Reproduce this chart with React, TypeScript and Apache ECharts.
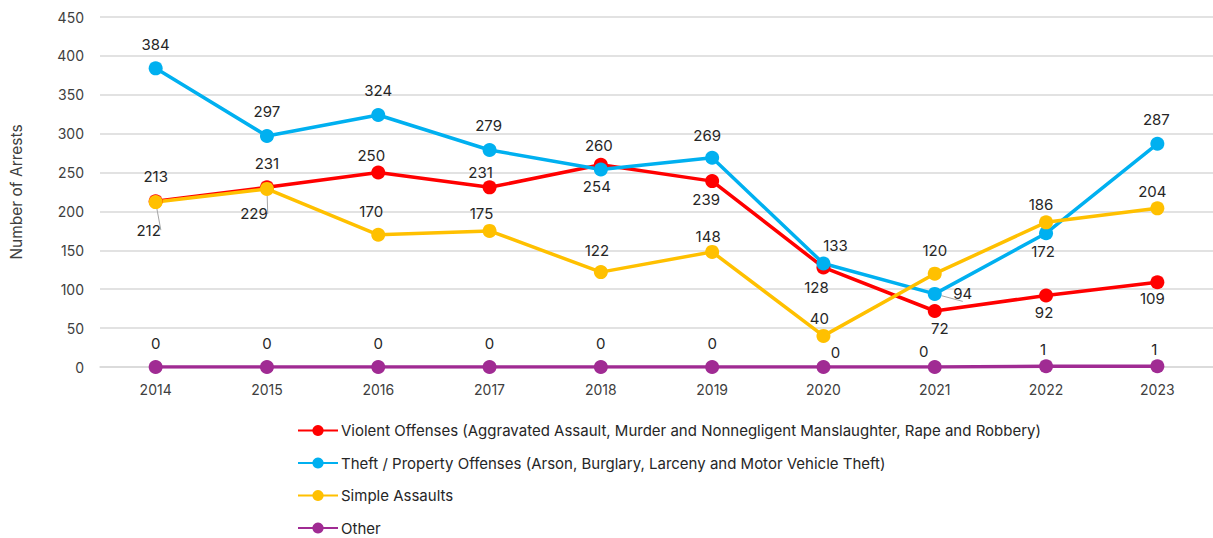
import React, { useEffect, useRef } from "react";
import * as echarts from "echarts";

const years = ["2014", "2015", "2016", "2017", "2018", "2019", "2020", "2021", "2022", "2023"];
const violent = [213, 231, 250, 231, 260, 239, 128, 72, 92, 109];
const theft = [384, 297, 324, 279, 254, 269, 133, 94, 172, 287];
const simple = [212, 229, 170, 175, 122, 148, 40, 120, 186, 204];
const other = [0, 0, 0, 0, 0, 0, 0, 0, 1, 1];

const names = [
  "Violent Offenses (Aggravated Assault, Murder and Nonnegligent Manslaughter, Rape and Robbery)",
  "Theft / Property Offenses (Arson, Burglary, Larceny and Motor Vehicle Theft)",
  "Simple Assaults",
  "Other",
];
const colors = ["#ff0000", "#00b0f0", "#ffc000", "#a02b93"];

// label offsets from the point centre, [dx, dy] in px
const violentLabelOff: [number, number][] = [
  [0, -25], [0, -24], [-7, -17], [-9, -15], [-2, -19], [-6, 18], [-7, 20], [5, 17], [-2, 17], [-5, 16],
];
const theftLabelOff: [number, number][] = [
  [0, -24], [0, -25], [0, -25], [-1, -25], [-4, 17], [-5, -22], [12, -18], [28, 0], [-3, 18], [-1, -24],
];
const simpleLabelOff: [number, number][] = [
  [-7, 28], [-13, 25], [-7, -23], [-8, -17], [-4, -22], [-4, -15], [-4, -17], [0, -23], [-5, -18], [-5, -17],
];
const otherLabelOff: [number, number][] = [
  [0, -24], [0, -24], [0, -24], [0, -24], [0, -24], [0, -24], [12, -15], [-11, -16], [-3, -17], [-3, -17],
];
// points whose label has a leader line
const leaders = ["2-0", "2-1", "1-7"];

export default function App() {
  const ref = useRef<HTMLDivElement>(null);
  useEffect(() => {
    if (!ref.current) return;
    const chart = echarts.init(ref.current, undefined, { renderer: "svg" });
    const font = "Inter, 'Noto Sans', sans-serif";
    const allData = [violent, theft, simple, other];
    const allOff = [violentLabelOff, theftLabelOff, simpleLabelOff, otherLabelOff];
    chart.setOption({
      animation: false,
      textStyle: { fontFamily: font },
      grid: { left: 98, right: -10, top: 17, bottom: 171 },
      xAxis: {
        type: "category",
        data: years,
        boundaryGap: true,
        axisLine: { show: true, lineStyle: { color: "#d9d9d9", width: 1.5 } },
        axisTick: { show: false },
        axisLabel: { color: "#404040", fontSize: 14, fontFamily: font, margin: 15 },
      },
      yAxis: {
        type: "value",
        min: 0,
        max: 450,
        interval: 50,
        name: "Number of Arrests",
        nameLocation: "middle",
        nameGap: 76,
        nameTextStyle: { color: "#404040", fontSize: 15.5, fontFamily: font },
        axisLine: { show: false },
        axisTick: { show: false },
        axisLabel: { color: "#404040", fontSize: 14, fontFamily: font, margin: 16 },
        splitLine: { lineStyle: { color: "#d9d9d9", width: 1.5 } },
      },
      legend: {
        orient: "vertical",
        left: 297,
        top: 423,
        height: 115,
        padding: 0,
        itemWidth: 40,
        itemHeight: 14,
        itemGap: 17.5,
        data: names,
        textStyle: { color: "#262626", fontSize: 15, fontFamily: font, padding: [0, 0, 0, -2] },
      },
      series: allData.map((d, si) => ({
        name: names[si],
        type: "line",
        data: d.map((v, i) => {
          const item: any = {
            value: v,
            label: { position: "inside", offset: allOff[si][i] },
          };
          if (leaders.includes(`${si}-${i}`)) {
            item.labelLine = { show: true };
          }
          return item;
        }),
        symbol: "circle",
        symbolSize: 14,
        lineStyle: { color: colors[si], width: 3.5 },
        itemStyle: { color: colors[si] },
        labelLine: { show: false, lineStyle: { color: "#a6a6a6", width: 1 } },
        label: {
          show: true,
          color: "#262626",
          fontSize: 15,
          fontFamily: font,
        },
      })),
    });
    return () => chart.dispose();
  }, []);
  return (
    <div
      ref={ref}
      style={{ position: "fixed", left: 0, top: 0, width: 1213, height: 538, background: "#fff" }}
    />
  );
}
